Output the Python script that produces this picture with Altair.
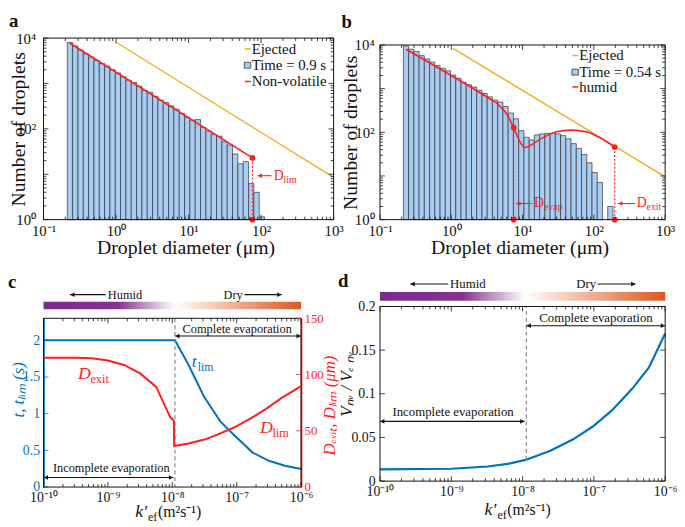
import altair as alt
import pandas as pd

FONT = "Liberation Serif"
RED = "#ff1f1f"
ORANGE = "#edb120"
BLUE = "#0072bd"
BAR_FILL = "#a9ccf2"
BAR_STROKE = "#333333"
INK = "#111111"

# ---------------- data ----------------
bin_log_start = -0.672
bin_log_step = 0.0735
a_counts = [8000, 6700, 5400, 4500, 3800, 3200, 2750, 2400, 2000, 1700, 1400, 1180,
            1050, 870, 700, 640, 520, 430, 380, 320, 270, 218, 180, 156, 160, 107,
            89, 75, 69, 52, 44, 28, 17, 19, 6.2, 4.0, 1.15]
b_counts = [9500, 8000, 7100, 5700, 4800, 4050, 3400, 2930, 2560, 2040, 1730, 1400,
            1230, 1090, 915, 775, 650, 550, 490, 390, 277, 204, 109, 77, 67, 87,
            92, 95, 95, 92, 84, 71, 55, 43, 31, 20, 12, 7.1, None, 2.0]

a_ej_x = [1.0, 1000.0]
a_ej_y = [8100.0, 8.5]
a_nv_x = [0.229, 76.0]
a_nv_y = [7800.0, 22.9]
a_dlim = (76.0, 22.9)

b_ej_x = [1.06, 1000.0]
b_ej_y = [8400.0, 9.5]
b_hum_x = [0.232, 3.69, 4.3, 4.8, 5.6, 6.6, 7.07, 7.5, 8.55, 9.5, 10.8, 13.0,
           16.0, 22.0, 30.0, 48.0, 78.0, 118.0, 196.0]
b_hum_y = [8000, 550, 470, 390, 302, 198, 153, 128, 77, 55, 44.8, 50.5,
           63, 84, 103, 112, 103, 77, 46]
b_devap = (7.5, 128.0)
b_dexit = (196.0, 46.0)

c_k_t = [1e-10, 1.1e-8, 1.75e-8, 3.12e-8, 5.56e-8, 8.83e-8, 1.77e-7, 3.16e-7, 5.62e-7, 1e-6]
c_t = [2.0, 2.0, 1.68, 1.23, 0.895, 0.72, 0.47, 0.358, 0.29, 0.246]
c_k_d = [1e-10, 3.16e-10, 5.62e-10, 1e-9, 1.78e-9, 3.16e-9, 5.62e-9, 9.33e-9, 1.06e-8,
         1.07e-8, 1.78e-8, 3.16e-8, 5.01e-8, 8.91e-8, 1.58e-7, 2.82e-7, 5.01e-7, 1e-6]
c_d = [115, 115, 114.4, 112.5, 108.5, 101, 89, 62, 59,
       36.4, 38.7, 42.2, 46.6, 52.7, 60.3, 69.3, 79.2, 89.7]
c_kcrit = 1.1e-8

d_k = [1e-10, 1e-9, 3.24e-9, 6.17e-9, 1.1e-8, 2.45e-8, 5.13e-8, 9.77e-8, 1.82e-7,
       3.47e-7, 5.89e-7, 1e-6]
d_v = [0.0135, 0.0142, 0.0167, 0.0197, 0.0243, 0.0348, 0.0479, 0.0628, 0.0815,
       0.106, 0.130, 0.169]
d_kcrit = 1.13e-8

# ---------------- helpers ----------------
SUP = str.maketrans("-0123456789", "⁻⁰¹²³⁴⁵⁶⁷⁸⁹")


def pow_label(e):
    return "10" + str(e).translate(SUP)


def log_expr(exps):
    s = "''"
    for e in exps:
        s = f"(round(log(datum.value)/LN10) == {e}) ? '{pow_label(e)}' : ({s})"
    return s


def make_x(scale, axis):
    def f(field):
        return alt.X(field, type="quantitative", scale=scale, axis=axis)
    return f


def make_y(scale, axis):
    def f(field):
        return alt.Y(field, type="quantitative", scale=scale, axis=axis)
    return f


ONE = pd.DataFrame({"v": [0]})


def txt(text, xpx, ypx, size=15, color=INK, align="left", baseline="middle",
        style="normal", weight="normal"):
    return alt.Chart(ONE).mark_text(text=text, font=FONT, fontSize=size, color=color,
                                    align=align, baseline=baseline, fontStyle=style,
                                    fontWeight=weight).encode(
        x=alt.value(xpx), y=alt.value(ypx))


def dtxt(X, Y, text, x, y, size=15, color=INK, align="left", baseline="middle",
         style="normal", dx=0, dy=0):
    d = pd.DataFrame({"x": [x], "y": [y]})
    return alt.Chart(d).mark_text(text=text, font=FONT, fontSize=size, color=color,
                                  align=align, baseline=baseline, fontStyle=style,
                                  dx=dx, dy=dy).encode(x=X("x"), y=Y("y"))


def dtxt_px(X, text, x, ypx, size):
    d = pd.DataFrame({"x": [x]})
    return alt.Chart(d).mark_text(text=text, font=FONT, fontSize=size, color=INK,
                                  align="center", baseline="middle").encode(
        x=X("x"), y=alt.value(ypx))


def frame(G):
    return alt.Chart(ONE).mark_rect(fillOpacity=0, stroke="#111111", strokeWidth=1).encode(
        x=alt.value(G[0]), x2=alt.value(G[1]), y=alt.value(G[2]), y2=alt.value(G[3]))


def ticks(X, Y, G, xmaj, xmin, ymaj, ymin, xcol=INK, ycol=INK, left=True, right=True,
          Lmaj=5, Lmin=3):
    x0, x1, y0, y1 = G
    out = []
    for vals, L in ((xmaj, Lmaj), (xmin, Lmin)):
        if not vals:
            continue
        base = alt.Chart(pd.DataFrame({"v": vals})).mark_rule(color=xcol, strokeWidth=0.8)
        out.append(base.encode(x=X("v"), y=alt.value(y0), y2=alt.value(y0 + L)))
        out.append(base.encode(x=X("v"), y=alt.value(y1), y2=alt.value(y1 - L)))
    for vals, L in ((ymaj, Lmaj), (ymin, Lmin)):
        if not vals:
            continue
        base = alt.Chart(pd.DataFrame({"v": vals})).mark_rule(color=ycol, strokeWidth=0.8)
        if left:
            out.append(base.encode(y=Y("v"), x=alt.value(x0), x2=alt.value(x0 + L)))
        if right:
            out.append(base.encode(y=Y("v"), x=alt.value(x1), x2=alt.value(x1 - L)))
    return out


def harrow(X, Y, x1, x2, y, heads=("left", "right"), color=INK, size=22):
    d = pd.DataFrame({"x1": [x1], "x2": [x2], "y": [y]})
    out = [alt.Chart(d).mark_rule(color=color, strokeWidth=1.1).encode(
        x=X("x1"), x2="x2", y=Y("y"))]
    if "left" in heads:
        out.append(alt.Chart(d).mark_point(shape="triangle-left", filled=True, color=color,
                                           size=size, opacity=1, xOffset=2.5).encode(
            x=X("x1"), y=Y("y")))
    if "right" in heads:
        out.append(alt.Chart(d).mark_point(shape="triangle-right", filled=True, color=color,
                                           size=size, opacity=1, xOffset=-2.5).encode(
            x=X("x2"), y=Y("y")))
    return out


def harrow_px(X, x1, x2, ypx, head, color=INK, size=22):
    d = pd.DataFrame({"x1": [x1], "x2": [x2]})
    out = [alt.Chart(d).mark_rule(color=color, strokeWidth=1.1).encode(
        x=X("x1"), x2="x2", y=alt.value(ypx))]
    if head == "left":
        out.append(alt.Chart(d).mark_point(shape="triangle-left", filled=True, color=color,
                                           size=size, opacity=1, xOffset=2.5).encode(
            x=X("x1"), y=alt.value(ypx)))
    else:
        out.append(alt.Chart(d).mark_point(shape="triangle-right", filled=True, color=color,
                                           size=size, opacity=1, xOffset=-2.5).encode(
            x=X("x2"), y=alt.value(ypx)))
    return out


def hist_df(counts):
    rows = []
    for i, n in enumerate(counts):
        if n is None:
            continue
        lo = 10 ** (bin_log_start + i * bin_log_step)
        hi = 10 ** (bin_log_start + (i + 1) * bin_log_step)
        rows.append(dict(lo=lo, hi=hi, n=n, base=1.0))
    return pd.DataFrame(rows)


def legend_layers(G, rows_y, text_off, label_time, label_red):
    tx = G[1] - text_off
    ry = [G[2] + r for r in rows_y]
    return [
        alt.Chart(ONE).mark_rule(color=ORANGE, strokeWidth=1.5).encode(
            x=alt.value(tx - 7), x2=alt.value(tx - 1), y=alt.value(ry[0])),
        alt.Chart(ONE).mark_rect(fill=BAR_FILL, stroke=BAR_STROKE, strokeWidth=0.8).encode(
            x=alt.value(tx - 7.5), x2=alt.value(tx - 1), y=alt.value(ry[1] - 3),
            y2=alt.value(ry[1] + 3)),
        alt.Chart(ONE).mark_rule(color=RED, strokeWidth=1.5).encode(
            x=alt.value(tx - 7), x2=alt.value(tx - 1), y=alt.value(ry[2])),
        txt("Ejected", tx, ry[0]),
        txt(label_time, tx, ry[1]),
        txt(label_red, tx, ry[2]),
    ]


GRAD = alt.LinearGradient(
    gradient="linear",
    stops=[alt.GradientStop(color="#7a2b8c", offset=0),
           alt.GradientStop(color="#85338f", offset=0.29),
           alt.GradientStop(color="#ffffff", offset=0.51),
           alt.GradientStop(color="#f9e0d3", offset=0.6),
           alt.GradientStop(color="#db5821", offset=1)],
    x1=0, x2=1, y1=0, y2=0)

# ---------------- panels a & b ----------------
h_xmaj = [0.1, 1, 10, 100, 1000]
h_xmin = [m * 10.0 ** e for e in range(-1, 3) for m in range(2, 10)]
h_ymaj = [1, 10, 100, 1000, 10000]
h_ymin = [m * 10.0 ** e for e in range(0, 4) for m in range(2, 10)]


def hist_encoders(G, ytitle_x, ylab_pad):
    x0, x1, y0, y1 = G
    xax = alt.Axis(values=h_xmaj, labelExpr=log_expr([-1, 0, 1, 2, 3]), labelPadding=4,
                   labelFontSize=15, title="Droplet diameter (μm)", titleFontSize=20,
                   titleY=28, titleX=(x0 + x1) / 2 - 3, titleBaseline="middle")
    yax = alt.Axis(values=[1, 100, 10000], labelExpr=log_expr([0, 2, 4]),
                   labelPadding=ylab_pad, labelFontSize=15, title="Number of droplets",
                   titleFontSize=20, titleX=ytitle_x, titleY=(y0 + y1) / 2,
                   titleBaseline="middle")
    xs = alt.Scale(type="log", domain=[0.1, 1000], nice=False, range=[x0, x1])
    ys = alt.Scale(type="log", domain=[1, 10000], nice=False, range=[y1, y0])
    return make_x(xs, xax), make_y(ys, yax)


def vline_pts(X, Y, x, ytop):
    d = pd.DataFrame({"x": [x, x], "y": [ytop, 1.0]})
    dl = pd.DataFrame({"x": [x], "y": [ytop], "y2": [1.0]})
    return [alt.Chart(dl).mark_rule(color=RED, strokeWidth=1.2, strokeDash=[2, 2]).encode(
                x=X("x"), y=Y("y"), y2="y2"),
            alt.Chart(d).mark_point(filled=True, color=RED, size=34, opacity=1).encode(
                x=X("x"), y=Y("y"))]


def label_D(X, Y, x, y, sub, size=14, subsize=10):
    return [dtxt(X, Y, "D", x, y, size=size, color=RED),
            dtxt(X, Y, sub, x, y, size=subsize, color=RED, dx=10, dy=4)]


def hist_panel(G, X, Y, counts, letter, letter_xy, extra, CW, CH):
    bars = alt.Chart(hist_df(counts)).mark_bar(
        fill=BAR_FILL, stroke=BAR_STROKE, strokeWidth=0.7).encode(
        x=X("lo"), x2="hi", y=Y("n"), y2="base")
    layers = [bars] + extra
    layers += ticks(X, Y, G, h_xmaj, h_xmin, h_ymaj, h_ymin)
    layers.append(frame(G))
    layers.append(txt(letter, G[0] + letter_xy[0], G[2] + letter_xy[1], size=19,
                      weight="bold", baseline="alphabetic"))
    return alt.layer(*layers).properties(width=CW, height=CH)


ROW1_H = 184
Ga = (0, 294, 0, ROW1_H)
Xa, Ya = hist_encoders(Ga, -25, 8)
a_extra = [
    alt.Chart(pd.DataFrame({"x": a_ej_x, "y": a_ej_y})).mark_line(
        color=ORANGE, strokeWidth=1.4).encode(x=Xa("x"), y=Ya("y")),
    alt.Chart(pd.DataFrame({"x": a_nv_x, "y": a_nv_y})).mark_line(
        color=RED, strokeWidth=1.6).encode(x=Xa("x"), y=Ya("y")),
]
a_extra += vline_pts(Xa, Ya, a_dlim[0], a_dlim[1])
a_extra += harrow(Xa, Ya, 89, 139, 9.3, heads=("left",), color=RED)
a_extra += label_D(Xa, Ya, 149, 9.3, "lim")
a_extra += legend_layers(Ga, [11, 27.5, 44], 83, "Time = 0.9 s", "Non-volatile")
pa = hist_panel(Ga, Xa, Ya, a_counts, "a", (-35, -11.5), a_extra, Ga[1], ROW1_H)

Gb = (0, 289, 7, ROW1_H)
Xb, Yb = hist_encoders(Gb, -29.5, 6)
b_extra = [
    alt.Chart(pd.DataFrame({"x": b_ej_x, "y": b_ej_y})).mark_line(
        color=ORANGE, strokeWidth=1.4).encode(x=Xb("x"), y=Yb("y")),
    alt.Chart(pd.DataFrame({"x": b_hum_x, "y": b_hum_y})).mark_line(
        color=RED, strokeWidth=1.6, interpolate="monotone").encode(x=Xb("x"), y=Yb("y")),
]
b_extra += vline_pts(Xb, Yb, b_devap[0], b_devap[1])
b_extra += vline_pts(Xb, Yb, b_dexit[0], b_dexit[1])
b_extra += harrow(Xb, Yb, 8.1, 13.7, 2.34, heads=("left",), color=RED)
b_extra += harrow(Xb, Yb, 218, 376, 2.34, heads=("left",), color=RED)
b_extra += label_D(Xb, Yb, 14.5, 2.34, "evap")
b_extra += label_D(Xb, Yb, 398, 2.34, "exit")
b_extra += legend_layers(Gb, [10.7, 27.5, 42.5], 87, "Time = 0.54 s", "humid")
pb = hist_panel(Gb, Xb, Yb, b_counts, "b", (-39, -17.5), b_extra, Gb[1], ROW1_H)

# ---------------- panels c & d ----------------
k_maj = [1e-10, 1e-9, 1e-8, 1e-7, 1e-6]
k_min = [m * 10.0 ** e for e in range(-10, -6) for m in range(2, 10)]


def k_encoder(G, offset=0):
    ax = alt.Axis(values=k_maj, labelExpr=log_expr([-10, -9, -8, -7, -6]), labelPadding=4,
                  labelFontSize=14, title=None, offset=offset)
    return make_x(alt.Scale(type="log", domain=[1e-10, 1e-6], nice=False,
                            range=[G[0], G[1]]), ax)


def ktitle(x0, ybase):
    return [txt("k′", x0, ybase, size=18, style="italic", baseline="alphabetic"),
            txt("ef", x0 + 13, ybase + 4, size=12, baseline="alphabetic"),
            txt("(m²s⁻¹)", x0 + 23, ybase, size=16, baseline="alphabetic")]


def humid_dry(X, G, ytext, ybar1, ybar2, hx, hx1, hx2, dxc, dx1, dx2, size):
    y0 = G[2]
    return ([alt.Chart(ONE).mark_rect(fill=GRAD, strokeWidth=0).encode(
                x=alt.value(G[0]), x2=alt.value(G[1]), y=alt.value(y0 + ybar1),
                y2=alt.value(y0 + ybar2)),
             dtxt_px(X, "Humid", hx, y0 + ytext, size),
             dtxt_px(X, "Dry", dxc, y0 + ytext, size)]
            + harrow_px(X, hx1, hx2, y0 + ytext, "left")
            + harrow_px(X, dx1, dx2, y0 + ytext, "right"))


ROW2_H = 183
# panel c
Gc = (0, 261, 12, ROW2_H)
Xc = k_encoder(Gc)
yl_axis = alt.Axis(values=[0, 0.5, 1, 1.5, 2], format="~g", labelColor=BLUE, labelFontSize=14,
                   labelPadding=4, domain=True, domainColor=BLUE, domainWidth=1.6,
                   title="t, tₗᵢₘ (s)", titleColor=BLUE, titleFontSize=17,
                   titleFontStyle="italic", titleX=-25.5, titleY=84, titleBaseline="middle")
yr_axis = alt.Axis(orient="right", values=[0, 50, 100, 150], labelColor=RED, labelFontSize=13,
                   labelPadding=3, domain=True, domainColor=RED, domainWidth=1.6,
                   title="Dₑₓᵢₜ, Dₗᵢₘ (μm)", titleColor=RED, titleFontSize=17,
                   titleFontStyle="italic", titleAngle=270, titleX=29, titleY=100,
                   titleBaseline="middle")
Yl = make_y(alt.Scale(domain=[0, 2.3], nice=False, zero=False, range=[Gc[3], Gc[2]]), yl_axis)
Yr = make_y(alt.Scale(domain=[0, 150], nice=False, zero=False, range=[Gc[3], Gc[2]]), yr_axis)

c_left = [
    alt.Chart(pd.DataFrame({"k": c_k_t, "t": c_t})).mark_line(
        color=BLUE, strokeWidth=2).encode(x=Xc("k"), y=Yl("t")),
    alt.Chart(pd.DataFrame({"k": [c_kcrit]})).mark_rule(
        color="#8a8a8a", strokeWidth=1.2, strokeDash=[4, 3]).encode(
        x=Xc("k"), y=alt.value(Gc[2]), y2=alt.value(Gc[3])),
    dtxt(Xc, Yl, "Complete evaporation", 1.02e-7, 2.16, size=12.5, align="center"),
    dtxt(Xc, Yl, "Incomplete evaporation", 1.13e-9, 0.255, size=12.5, align="center"),
    dtxt(Xc, Yl, "t", 2.01e-8, 1.70, size=18, color=BLUE, style="italic"),
    dtxt(Xc, Yl, "lim", 2.01e-8, 1.70, size=12, color=BLUE, dx=6, dy=5),
]
c_left += harrow(Xc, Yl, 1.1e-8, 1e-6, 2.058)
c_left += harrow(Xc, Yl, 1e-10, 1.04e-8, 0.130)
c_left += humid_dry(Xc, Gc, -24, -16.7, -9.3, 1.84e-9, 2.58e-10, 9.2e-10,
                    8.83e-8, 1.32e-7, 5.0e-7, 12.5)
c_left += ticks(Xc, Yl, Gc, k_maj, k_min, [0, 0.5, 1, 1.5, 2], [], xcol=INK, ycol=BLUE,
                right=False)
c_left.append(frame(Gc))
c_left += ktitle(93, Gc[3] + 30)
c_left.append(txt("c", -36, Gc[2] - 31, size=19, weight="bold", baseline="alphabetic"))

c_right = [
    alt.Chart(pd.DataFrame({"k": c_k_d, "d": c_d})).mark_line(
        color=RED, strokeWidth=2).encode(x=Xc("k"), y=Yr("d")),
    dtxt(Xc, Yr, "D", 3.44e-10, 100, size=18, color=RED, style="italic"),
    dtxt(Xc, Yr, "exit", 3.44e-10, 100, size=12.5, color=RED, dx=12.5, dy=5),
    dtxt(Xc, Yr, "D", 2.31e-7, 52.4, size=18, color=RED, style="italic"),
    dtxt(Xc, Yr, "lim", 2.31e-7, 52.4, size=12.5, color=RED, dx=12.5, dy=5),
]
c_right += ticks(Xc, Yr, Gc, [], [], [0, 50, 100, 150], [], ycol=RED, left=False)

pc = alt.layer(alt.layer(*c_left), alt.layer(*c_right)).resolve_scale(
    y="independent").properties(width=Gc[1], height=ROW2_H)

# panel d
Gd = (0, 289, 0, 177)
Xd = k_encoder(Gd, offset=Gd[3] - ROW2_H)
yd_axis = alt.Axis(values=[0, 0.05, 0.1, 0.15, 0.2], format="~g", labelFontSize=14,
                   labelPadding=5, title="Vₙᵥ / Vₑ ₙᵥ", titleFontSize=17,
                   titleFontStyle="italic", titleX=-34, titleY=78, titleBaseline="middle")
Yd = make_y(alt.Scale(domain=[0, 0.2], nice=False, zero=False, range=[Gd[3], Gd[2]]), yd_axis)
d_layers = [
    alt.Chart(pd.DataFrame({"k": d_k, "v": d_v})).mark_line(
        color=BLUE, strokeWidth=2.2).encode(x=Xd("k"), y=Yd("v")),
    alt.Chart(pd.DataFrame({"k": [d_kcrit], "y1": [0.0243], "y2": [0.2]})).mark_rule(
        color="#8a8a8a", strokeWidth=1.2, strokeDash=[4, 3]).encode(
        x=Xd("k"), y=Yd("y1"), y2="y2"),
    dtxt(Xd, Yd, "Complete evaporation", 1.07e-7, 0.1865, size=13, align="center"),
    dtxt(Xd, Yd, "Incomplete evaporation", 1.06e-9, 0.079, size=13, align="center"),
]
d_layers += harrow(Xd, Yd, 1.13e-8, 1e-6, 0.178)
d_layers += harrow(Xd, Yd, 1e-10, 1.07e-8, 0.0684)
d_layers += humid_dry(Xd, Gd, -22.7, -14.7, -5.7, 1.71e-9, 2.65e-10, 9.0e-10,
                      7.8e-8, 1.13e-7, 3.85e-7, 13)
d_layers += ticks(Xd, Yd, Gd, k_maj, k_min, [0, 0.05, 0.1, 0.15, 0.2], [])
d_layers.append(frame(Gd))
d_layers += ktitle(106, Gd[3] + 34)
d_layers.append(txt("d", -42.5, -19.5, size=19, weight="bold", baseline="alphabetic"))
pd_ = alt.layer(*d_layers).properties(width=Gd[1], height=ROW2_H)

chart = alt.concat(
    pa, pb, pc, pd_, columns=2, bounds="flush",
    spacing={"row": 88, "column": 47},
).properties(padding=0).configure_view(
    strokeWidth=0
).configure_axis(
    labelFont=FONT, titleFont=FONT, titleFontWeight="normal", labelColor=INK,
    titleColor=INK, grid=False, ticks=False, tickSize=0, domain=False,
    labelFlush=False, labelOverlap=False
)

chart.save("out.html", embed_options={"renderer": "svg", "actions": False})
